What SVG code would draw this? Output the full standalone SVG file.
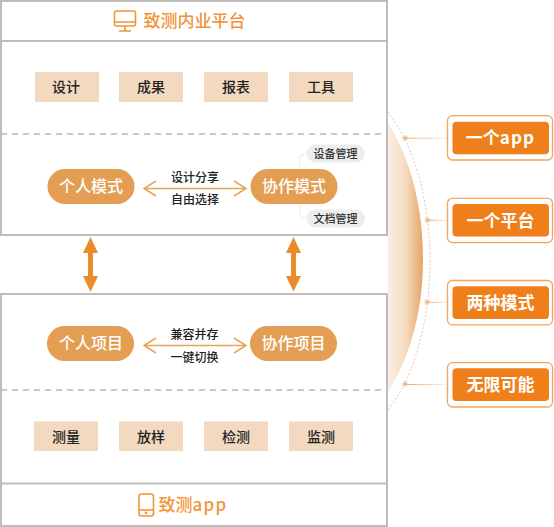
<svg xmlns="http://www.w3.org/2000/svg" width="554" height="527" viewBox="0 0 554 527">
<style>
text{font-family:"Noto Sans CJK SC","Noto Sans",sans-serif;text-anchor:middle}
.frame{fill:#fff;stroke:#bdbdbd;stroke-width:2}
.div{stroke:#bdbdbd;stroke-width:2;fill:none}
.dash{stroke:#b8b8b8;stroke-width:1.5;stroke-dasharray:6 5;fill:none}
.box{fill:#f3d9c0}
.boxt{font-size:14px;fill:#222;font-weight:500}
.pill{fill:#e39e54}
.pillt{font-size:16px;fill:#fff;font-weight:500}
.lab{font-size:12px;fill:#222;font-weight:500}
.tag{fill:#ededed}
.tagt{font-size:11px;fill:#333;font-weight:500}
.title{font-size:17px;fill:#f0953a;font-weight:500}
.icon{fill:none;stroke:#f0953a;stroke-width:1.6}
.dbl{fill:none;stroke:#e8a35c;stroke-width:1.5}
.big{fill:#ea8c2c}
.side{fill:#fff;stroke:#f3a55a;stroke-width:1.3}
.sidei{fill:#ef7f1a}
.sidet{font-size:17px;fill:#fff;font-weight:700}
.dot{fill:#eda873}
.halo{fill:#f0c9a4;opacity:.55}
.br{fill:none;stroke:#efefef;stroke-width:1.3}
.ls{letter-spacing:1.2px}
</style>
<defs>
<linearGradient id="lens" x1="0" x2="1" y1="0" y2="0"><stop offset="0" stop-color="#fbeee1"/><stop offset=".5" stop-color="#f5dcc2"/><stop offset="1" stop-color="#e3a567"/></linearGradient>
<linearGradient id="fade" x1="0" x2="1" y1="0" y2="0"><stop offset="0" stop-color="#f0a868"/><stop offset="1" stop-color="#f0a868" stop-opacity=".15"/></linearGradient>
</defs>
<g id="decor">
<path d="M388 123C405 150 423 195 423 260C423 320 405 365 388 392Z" fill="url(#lens)"/>
<path d="M388 112C418 150 430 210 430 261C430 312 418 372 388 410" fill="none" stroke="#eec6a2" stroke-width="1" stroke-dasharray="2 2"/>
</g>
<g id="platform">
<rect class="frame" x="1" y="1" width="386" height="234"/>
<path class="div" d="M1 41H387"/>
<path class="dash" d="M1 134H387"/>
<g class="icon"><rect x="114.500" y="11" width="21" height="15" rx="2"/><path d="M115 22H135M125 26V31M119 31H131"/></g>
<text class="title" x="194.500" y="27">致测内业平台</text>
</g>
<g id="app">
<rect class="frame" x="1" y="294" width="386" height="232"/>
<path class="dash" d="M1 390H387"/>
<path class="div" d="M1 483.500H387" stroke-width="1.500"/>
<g class="icon"><rect x="139" y="494" width="14.500" height="22" rx="2.500"/><path d="M139 510H153.500"/><circle cx="146" cy="513" r=".6"/></g>
<text class="title" x="193" y="510.500">致测<tspan class="ls">app</tspan></text>
</g>
<g id="n-sheji"><rect class="box" x="35" y="72" width="64" height="30"/><text class="boxt" x="66" y="92">设计</text></g>
<g id="n-chengguo"><rect class="box" x="119" y="72" width="64" height="30"/><text class="boxt" x="151" y="92">成果</text></g>
<g id="n-baobiao"><rect class="box" x="204" y="72" width="64" height="30"/><text class="boxt" x="236" y="92">报表</text></g>
<g id="n-gongju"><rect class="box" x="289" y="72" width="64" height="30"/><text class="boxt" x="321" y="92">工具</text></g>
<g id="n-grms"><rect class="pill" x="47.500" y="169" width="87" height="35" rx="17.500"/><text class="pillt" x="91" y="192">个人模式</text></g>
<g id="n-xzms"><rect class="pill" x="250.500" y="169" width="87" height="35" rx="17.500"/><text class="pillt" x="294" y="192">协作模式</text></g>
<g id="n-sbgl"><rect class="tag" x="306.500" y="144.500" width="58.500" height="18" rx="9"/><text class="tagt" x="335.500" y="157.500">设备管理</text></g>
<g id="n-wdgl"><rect class="tag" x="306.500" y="209.500" width="58.500" height="18" rx="9"/><text class="tagt" x="335.500" y="222.500">文档管理</text></g>
<g id="n-grxm"><rect class="pill" x="47" y="326" width="87" height="35" rx="17.500"/><text class="pillt" x="91" y="349">个人项目</text></g>
<g id="n-xzxm"><rect class="pill" x="250" y="326" width="87" height="35" rx="17.500"/><text class="pillt" x="293.500" y="349">协作项目</text></g>
<g id="n-celiang"><rect class="box" x="34" y="421.500" width="64" height="29.500"/><text class="boxt" x="66" y="441.500">测量</text></g>
<g id="n-fangyang"><rect class="box" x="119" y="421.500" width="64" height="29.500"/><text class="boxt" x="151" y="441.500">放样</text></g>
<g id="n-jiance"><rect class="box" x="204" y="421.500" width="64" height="29.500"/><text class="boxt" x="236" y="441.500">检测</text></g>
<g id="n-jiance2"><rect class="box" x="289" y="421.500" width="64" height="29.500"/><text class="boxt" x="321" y="441.500">监测</text></g>
<g id="n-s1"><rect class="side" x="447.500" y="115.700" width="105" height="44.300" rx="5"/><rect class="sidei" x="452.500" y="121.700" width="96.500" height="32.600" rx="4"/><text class="sidet" x="500.500" y="144">一个<tspan class="ls">app</tspan></text></g>
<g id="n-s2"><rect class="side" x="447.500" y="198.300" width="105" height="44.300" rx="5"/><rect class="sidei" x="452.500" y="204" width="96.500" height="32.600" rx="4"/><text class="sidet" x="500.500" y="226.500">一个平台</text></g>
<g id="n-s3"><rect class="side" x="447.500" y="280.500" width="105" height="44.300" rx="5"/><rect class="sidei" x="452.500" y="286.300" width="96.500" height="32.600" rx="4"/><text class="sidet" x="500.500" y="308.500">两种模式</text></g>
<g id="n-s4"><rect class="side" x="447.500" y="362.700" width="105" height="44.300" rx="5"/><rect class="sidei" x="452.500" y="368.300" width="96.500" height="32.600" rx="4"/><text class="sidet" x="500.500" y="391">无限可能</text></g>
<g id="connectors">
<path class="dbl" d="M156 181L144 188.500L156 196M144 188.500H246M234 181L246 188.500L234 196"/>
<text class="lab" x="195" y="182">设计分享</text>
<text class="lab" x="195" y="204">自由选择</text>
<path class="dbl" d="M156 338L144 345.500L156 353M144 345.500H246M234 338L246 345.500L234 353"/>
<text class="lab" x="194.500" y="339">兼容并存</text>
<text class="lab" x="194.500" y="362">一键切换</text>
<path class="br" d="M307 153.500Q299.500 153.500 299.500 161V169M299.500 204V212Q299.500 218.500 307 218.500"/>
<path class="big" d="M90.500 237L98 253H93V276H98L90.500 292L83 276H88V253H83Z"/>
<path class="big" d="M293.500 237L301 253H296V276H301L293.500 291.500L286 276H291V253H286Z"/>
<rect x="405" y="137.700" width="43" height="1" fill="url(#fade)"/>
<rect x="427" y="219.800" width="21" height="1" fill="url(#fade)"/>
<rect x="427" y="301.800" width="21" height="1" fill="url(#fade)"/>
<rect x="405" y="384" width="43" height="1" fill="url(#fade)"/>
<circle class="halo" cx="405" cy="138" r="3"/><circle class="dot" cx="405" cy="138" r="1.300"/>
<circle class="halo" cx="427.500" cy="220" r="3"/><circle class="dot" cx="427.500" cy="220" r="1.300"/>
<circle class="halo" cx="427" cy="302" r="3"/><circle class="dot" cx="427" cy="302" r="1.300"/>
<circle class="halo" cx="405" cy="384" r="3"/><circle class="dot" cx="405" cy="384" r="1.300"/>
</g>
</svg>
